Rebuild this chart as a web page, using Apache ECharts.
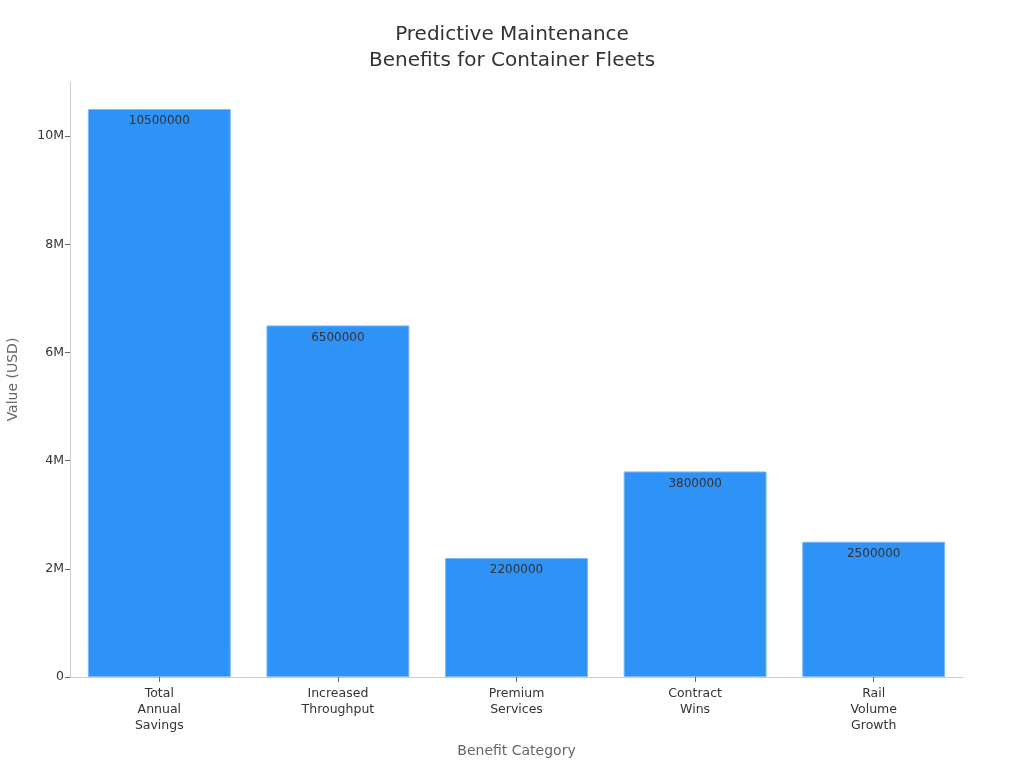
<!DOCTYPE html>
<html>
<head>
<meta charset="utf-8">
<script src="https://cdn.jsdelivr.net/npm/echarts@6/dist/echarts.min.js"></script>
<style>
  html, body { margin: 0; padding: 0; background: #fff; }
  #chart { width: 1024px; height: 768px; }
</style>
</head>
<body>
<div id="chart"></div>
<script>
// data
const categories = ['Total\nAnnual\nSavings', 'Increased\nThroughput', 'Premium\nServices', 'Contract\nWins', 'Rail\nVolume\nGrowth'];
const values = [10500000, 6500000, 2200000, 3800000, 2500000];
const yTicks = [0, 2000000, 4000000, 6000000, 8000000, 10000000];

const chart = echarts.init(document.getElementById('chart'));
chart.setOption({
  animation: false,
  textStyle: { fontFamily: 'DejaVu Sans' },
  title: {
    text: 'Predictive Maintenance\nBenefits for Container Fleets',
    left: 'center',
    top: 17,
    textStyle: { fontSize: 20, fontWeight: 'normal', color: '#333', lineHeight: 26 }
  },
  grid: { left: 70, right: 61, top: 82, bottom: 91, outerBoundsMode: 'none', containLabel: false },
  xAxis: {
    type: 'category',
    data: categories,
    name: 'Benefit Category',
    nameLocation: 'middle',
    nameGap: 67,
    nameTextStyle: { fontSize: 14, color: '#666' },
    axisLine: { lineStyle: { color: '#ccc' } },
    axisTick: { show: true, alignWithLabel: true, length: 5, lineStyle: { color: '#666' } },
    axisLabel: { fontSize: 12.5, color: '#333', lineHeight: 16, margin: 9 }
  },
  yAxis: {
    type: 'value',
    min: 0,
    max: 11000000,
    name: 'Value (USD)',
    nameLocation: 'middle',
    nameGap: 50,
    nameTextStyle: { fontSize: 14, color: '#666' },
    splitLine: { show: false },
    axisLine: { show: true, lineStyle: { color: '#ccc' } },
    axisTick: { show: true, length: 5, lineStyle: { color: '#666' }, customValues: yTicks },
    axisLabel: {
      fontSize: 12.5, color: '#333', margin: 6,
      customValues: yTicks,
      formatter: v => v === 0 ? '0' : (v / 1e6) + 'M'
    }
  },
  series: [{
    type: 'bar',
    data: values,
    barCategoryGap: '20%',
    itemStyle: { color: '#2f92f7', borderColor: '#7ab8f7', borderWidth: 1 },
    label: {
      show: true,
      position: 'insideTop',
      distance: 6,
      fontSize: 12,
      color: '#333'
    }
  }]
});
</script>
</body>
</html>
